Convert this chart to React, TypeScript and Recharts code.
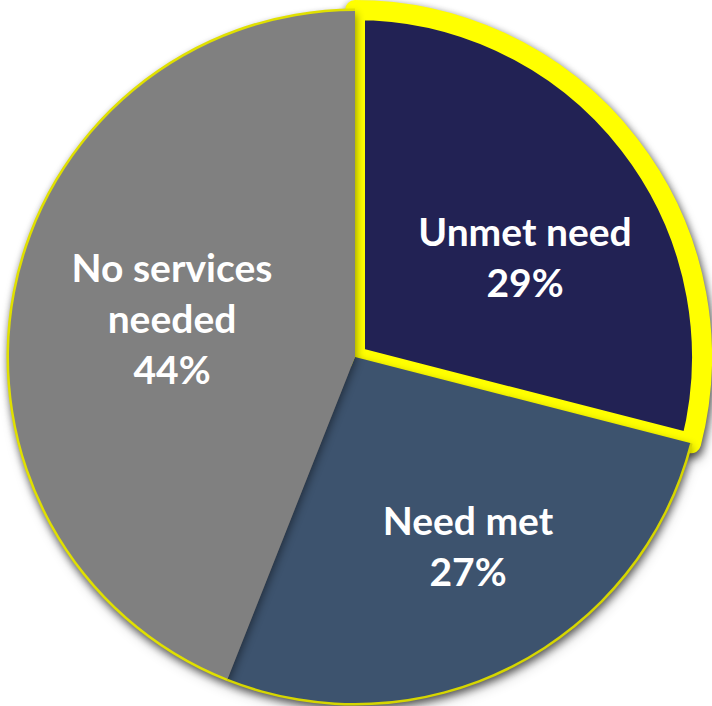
import React from "react";
import { PieChart, Pie, Cell } from "recharts";

const categories = ["Unmet need", "Need met", "No services needed"];
const values = [29, 27, 44];
const labelLines = [["Unmet need", "29%"], ["Need met", "27%"], ["No services", "needed", "44%"]];

const fills = ["#222254", "#3d536e", "#808080"];
const ringFills = ["transparent", "#d6d600", "#e0e000"];
// label anchor offsets (from pie centre) and line height
const labelOffsets = [
  { dx: 170, dy: -111 },
  { dx: 113, dy: 178 },
  { dx: -183, dy: -75 },
];
const LINE_H = 51;

const data = categories.map((name, i) => ({ name, value: values[i], lines: labelLines[i] }));

const CX = 355;
const CY = 357;
const R = 347;

const renderLabel = (props: any) => {
  const { cx, cy, index } = props;
  const off = labelOffsets[index];
  const lines = data[index].lines;
  return (
    <text
      x={cx + off.dx}
      y={cy + off.dy}
      textAnchor="middle"
      fill="#ffffff"
      fontFamily="Lato, 'Open Sans', sans-serif"
      fontWeight={700}
      fontSize={39}
    >
      {lines.map((l: string, k: number) => (
        <tspan key={k} x={cx + off.dx} dy={k === 0 ? 0 : LINE_H}>
          {l}
        </tspan>
      ))}
    </text>
  );
};

export default function App() {
  return (
    <div style={{ position: "absolute", left: 0, top: 0, width: 712, height: 706, background: "#fff" }}>
      <style>{`.main-pie { filter: drop-shadow(1px 4px 4px rgba(0,0,0,0.45)); }`}</style>
      <PieChart width={712} height={706} margin={{ top: 0, right: 0, bottom: 0, left: 0 }}>
        <Pie
          className="main-pie"
          data={data}
          dataKey="value"
          cx={CX}
          cy={CY}
          innerRadius={0}
          outerRadius={R}
          startAngle={90}
          endAngle={-270}
          isAnimationActive={false}
          label={false}
          labelLine={false}
        >
          {data.map((d, i) => (
            <Cell
              key={d.name}
              fill={fills[i]}
              stroke={i === 0 ? "#ffff00" : "none"}
              strokeWidth={i === 0 ? 20 : 0}
              strokeLinejoin="round"
            />
          ))}
        </Pie>
        <Pie
          data={data}
          dataKey="value"
          cx={CX}
          cy={CY}
          innerRadius={R - 1}
          outerRadius={R + 1.5}
          startAngle={90}
          endAngle={-270}
          isAnimationActive={false}
          label={renderLabel}
          labelLine={false}
        >
          {data.map((d, i) => (
            <Cell key={d.name} fill={ringFills[i]} stroke="none" />
          ))}
        </Pie>
      </PieChart>
    </div>
  );
}
